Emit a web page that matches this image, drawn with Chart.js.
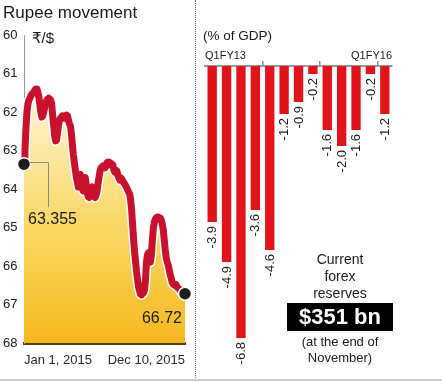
<!DOCTYPE html>
<html><head><meta charset="utf-8">
<script src="https://cdn.jsdelivr.net/npm/chart.js@4"></script>
<style>
html,body{margin:0;padding:0;background:#fff;}
#wrap{position:relative;width:442px;height:382px;overflow:hidden;font-family:'Liberation Sans','DejaVu Sans','Noto Sans',sans-serif;color:#1a1a1a;}
canvas{position:absolute;top:0;}
#cl{left:0;}
#cr{left:196px;}
.sep{position:absolute;left:195px;top:0;width:0;height:378px;border-left:1px dotted #777;}
.bottom{position:absolute;left:0;top:379px;width:442px;height:2px;background:#cfcfcf;}
.t{position:absolute;white-space:nowrap;}
</style></head>
<body>
<div id="wrap">
  <canvas id="cl" width="195" height="382"></canvas>
  <canvas id="cr" width="246" height="382"></canvas>
  <div class="sep"></div>
  <div class="bottom"></div>
  <div class="t" style="left:3px;top:3px;font-size:17px;line-height:20px;">Rupee movement</div>
  <div class="t" style="left:32px;top:30px;font-size:15px;line-height:16px;">₹/$</div>
  <div class="t" style="left:203px;top:28px;font-size:13.5px;line-height:16px;">(% of GDP)</div>
  <div class="t" style="left:290px;top:251px;width:100px;text-align:center;font-size:14px;line-height:17px;">Current<br>forex<br>reserves</div>
  <div class="t" style="left:287px;top:303px;width:106px;height:28px;background:#000;color:#fff;text-align:center;font-size:22px;font-weight:bold;line-height:28px;">$351 bn</div>
  <div class="t" style="left:290px;top:334px;width:100px;text-align:center;font-size:13px;line-height:16px;">(at the end of<br>November)</div>
</div>
<script>
// ---- data ----
const xTickLabels = ['Jan 1, 2015', 'Dec 10, 2015'];
const rates = [
63.355,62.99,62.42,62.00,61.79,61.69,61.64,61.58,61.53,61.51,
61.48,61.43,61.40,61.40,61.48,61.61,61.79,62.00,62.13,62.10,
62.00,61.87,61.77,61.69,61.66,61.64,61.66,61.69,61.79,62.08,
62.34,62.60,62.75,62.73,62.52,62.34,62.21,62.16,62.13,62.10,
62.13,62.16,62.10,62.08,62.10,62.21,62.31,62.36,62.55,62.86,
63.12,63.32,63.51,63.69,63.82,63.95,63.70,63.62,63.80,64.00,
64.05,63.85,63.70,63.88,64.10,64.20,64.22,64.10,63.98,63.95,
64.12,64.20,64.22,64.15,64.05,63.85,63.69,63.53,63.45,63.43,
63.40,63.43,63.45,63.40,63.32,63.30,63.30,63.32,63.38,63.35,
63.38,63.51,63.56,63.51,63.53,63.64,63.71,63.77,63.71,63.74,
63.79,63.84,63.87,63.92,63.97,64.03,64.08,64.13,64.29,64.55,
64.94,65.32,65.64,65.90,66.16,66.36,66.55,66.65,66.73,66.75,
66.68,66.70,66.62,66.36,65.90,65.71,65.66,65.79,65.90,65.71,
65.32,65.01,64.86,64.78,64.75,64.73,64.73,64.75,64.75,64.81,
64.91,65.06,65.32,65.58,65.79,65.90,65.97,66.10,66.23,66.31,
66.42,66.47,66.49,66.47,66.49,66.55,66.57,66.60,66.62,66.68,
66.70,66.73,66.72,66.72
];
const quarters = ['Q1FY13','Q2FY13','Q3FY13','Q4FY13','Q1FY14','Q2FY14','Q3FY14','Q4FY14',
                  'Q1FY15','Q2FY15','Q3FY15','Q4FY15','Q1FY16'];
const cadValues = [-3.9,-4.9,-6.8,-3.6,-4.6,-1.2,-0.9,-0.2,-1.6,-2.0,-1.6,-0.2,-1.2];
const quarterAxisLabels = ['Q1FY13','Q1FY16'];
const fyStartIdx = [4,8,12];

const FONT = "'Liberation Sans','DejaVu Sans',sans-serif";
Chart.defaults.font.family = FONT;
Chart.defaults.color = '#1a1a1a';

// ---- left chart ----
const leftAnnot = {
  id:'leftAnnot',
  afterDatasetsDraw(chart){
    const ctx = chart.ctx;
    const meta = chart.getDatasetMeta(0);
    const p0 = meta.data[0], pN = meta.data[meta.data.length-1];
    ctx.save();
    ctx.strokeStyle = '#8a8a8a'; ctx.lineWidth = 1;
    ctx.beginPath();
    ctx.moveTo(p0.x+6, Math.round(p0.y)-1.5);
    ctx.lineTo(p0.x+24.5, Math.round(p0.y)-1.5);
    ctx.lineTo(p0.x+24.5, p0.y+43);
    ctx.stroke();
    ctx.fillStyle = '#1a1a1a';
    ctx.font = '16px ' + FONT;
    ctx.textBaseline = 'middle';
    ctx.textAlign = 'left';
    ctx.fillText(rates[0].toFixed(3), p0.x+4, p0.y+55);
    ctx.textAlign = 'right';
    ctx.fillText(rates[rates.length-1].toFixed(2), pN.x-3, pN.y+25);
    ctx.restore();
  }
};
new Chart(document.getElementById('cl'), {
  type:'line',
  data:{
    labels: rates.map((_, i) => i),
    datasets:[
      {
        data: rates, order:0, clip:false,
        borderColor:'#c8112d', borderWidth:7, tension:0,
        borderJoinStyle:'round', borderCapStyle:'round', fill:false,
        pointRadius: c => (c.dataIndex === 0 || c.dataIndex === rates.length-1) ? 6.5 : 0,
        pointBackgroundColor:'#1c1c1c', pointBorderColor:'#ffffff', pointBorderWidth:1.5
      },
      {
        data: rates, order:1,
        borderColor:'#ffffff', borderWidth:10, tension:0, pointRadius:0,
        borderJoinStyle:'round', fill:'start',
        backgroundColor: c => {
          const {ctx, chartArea} = c.chart;
          if (!chartArea) return 'rgba(0,0,0,0)';
          const g = ctx.createLinearGradient(0, chartArea.top, 0, chartArea.bottom);
          g.addColorStop(0, '#fffcf0');
          g.addColorStop(0.25, '#fdf1c8');
          g.addColorStop(0.6, '#fad868');
          g.addColorStop(1, '#f5b91f');
          return g;
        }
      }
    ]
  },
  options:{
    responsive:false, animation:false, events:[],
    layout:{padding:{left:3, right:8, top:35, bottom:0}},
    plugins:{legend:{display:false}, tooltip:{enabled:false}, title:{display:false}},
    scales:{
      x:{
        type:'linear', min:0, max:rates.length-1,
        afterBuildTicks: s => { s.ticks = [{value:0},{value:rates.length-1}]; },
        ticks:{callback:(v, i) => xTickLabels[i], align:'inner', maxRotation:0, autoSkip:false,
               padding:10, color:'#2a2a2a', font:{size:13}},
        grid:{display:false, drawTicks:false},
        border:{display:true, color:'#574214', width:3},
        afterFit: s => { s.height = 39; }
      },
      y:{
        reverse:true, min:60, max:68,
        ticks:{stepSize:1, crossAlign:'far', padding:0, color:'#1a1a1a', font:{size:13}},
        grid:{display:false, drawTicks:false},
        border:{display:true, color:'#9a9a9a', width:1},
        afterFit: s => { s.width = 21; }
      }
    }
  },
  plugins:[leftAnnot]
});

// ---- right chart ----
const rightLabels = {
  id:'rightLabels',
  afterDatasetsDraw(chart){
    const ctx = chart.ctx;
    const meta = chart.getDatasetMeta(0);
    const xs = chart.scales.x;
    ctx.save();
    ctx.fillStyle = '#1a1a1a';
    ctx.font = '13px ' + FONT;
    meta.data.forEach((bar, i) => {
      ctx.save();
      ctx.translate(bar.x + 0.5, bar.y + 4);
      ctx.rotate(-Math.PI/2);
      ctx.textAlign = 'right';
      ctx.textBaseline = 'middle';
      ctx.fillText(cadValues[i].toFixed(1), 0, 0);
      ctx.restore();
    });
    ctx.font = '11px ' + FONT;
    ctx.textBaseline = 'middle';
    ctx.textAlign = 'left';
    ctx.fillText(quarterAxisLabels[0], xs.left, xs.bottom - 10);
    ctx.textAlign = 'right';
    ctx.fillText(quarterAxisLabels[1], xs.right, xs.bottom - 10);
    ctx.restore();
  }
};
new Chart(document.getElementById('cr'), {
  type:'bar',
  data:{
    labels: quarters,
    datasets:[{data: cadValues, backgroundColor:'#e3131c', borderWidth:0,
               barPercentage:0.65, categoryPercentage:1}]
  },
  options:{
    responsive:false, animation:false, events:[],
    layout:{padding:{left:9, right:50, top:61, bottom:36}},
    plugins:{legend:{display:false}, tooltip:{enabled:false}},
    scales:{
      x:{
        position:'top', offset:true,
        ticks:{display:false},
        grid:{offset:true, drawOnChartArea:false, drawTicks:true, tickLength:5, lineWidth:1.5,
              color: c => fyStartIdx.includes(c.index) ? '#8a8a8a' : 'rgba(0,0,0,0)'},
        border:{display:true, color:'#9a9a9a', width:2},
        afterFit: s => { s.height = 5; }
      },
      y:{display:false, min:-7, max:0}
    }
  },
  plugins:[rightLabels]
});
</script>
</body></html>
